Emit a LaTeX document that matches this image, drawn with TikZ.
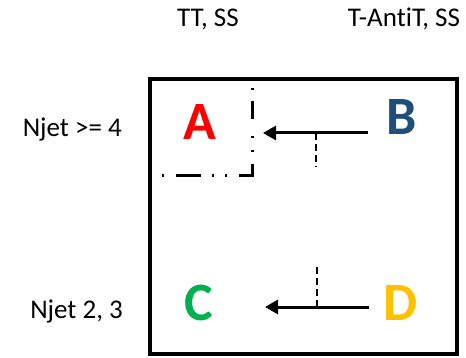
\documentclass[tikz,border=0pt]{standalone}
\usepackage{fontspec}
\setmainfont[Ligatures=NoCommon]{Carlito}
\usetikzlibrary{arrows.meta}
\definecolor{cA}{RGB}{255,0,0}
\definecolor{cB}{RGB}{31,78,121}
\definecolor{cC}{RGB}{0,176,80}
\definecolor{cD}{RGB}{255,192,0}
\tikzset{
  hdr/.style={font=\fontsize{27}{30}\selectfont, anchor=base, inner sep=0pt},
  rowlbl/.style={font=\fontsize{27}{30}\selectfont, anchor=base east, inner sep=0pt},
  letter/.style={font=\fontsize{54}{60}\selectfont\bfseries, anchor=base, inner sep=0pt},
  arr/.style={line width=3pt, -{Triangle[length=13pt,width=14pt]}},
  dvert/.style={line width=2pt, dash pattern=on 7pt off 4pt},
  dashdot/.style={line width=3pt, miter limit=10,
    dash pattern=on 2pt off 11pt on 18pt off 17pt on 2pt off 12pt on 2pt off 12pt
      on 25pt off 12pt on 2pt off 11pt on 2pt off 11pt on 25pt off 12pt on 2pt off 100pt},
  frame/.style={line width=4.5pt}
}
\begin{document}
\begin{tikzpicture}[x=1pt,y=-1pt]
\useasboundingbox (0,0) rectangle (466,358);
\draw[frame] (150,79) rectangle (457,354);
\node[hdr] (h1) at (208,27) {TT, SS};
\node[hdr] (h2) at (404,27) {T-AntiT, SS};
\node[rowlbl] (r1) at (122,137) {Njet >= 4};
\node[rowlbl] (r2) at (123,318) {Njet 2, 3};
\node[letter, text=cA] (A) at (200,140) {A};
\node[letter, text=cB] (B) at (402,135) {B};
\node[letter, text=cC] (C) at (199,320) {C};
\node[letter, text=cD] (D) at (401,320) {D};
% top arrow
\coordinate (bs) at (368,133);
\coordinate (bt) at (263,133);
\coordinate (bm) at (316,133);
\coordinate (bd) at (316,167);
\draw[arr] (bs) -- (bt);
\draw[dvert] (bm) -- (bd);
% bottom arrow
\coordinate (ds) at (369,307);
\coordinate (dt) at (265,307);
\coordinate (dm) at (317,307);
\coordinate (du) at (317,265);
\draw[arr] (ds) -- (dt);
\draw[dvert] (dm) -- (du);
% dash-dot corner
\coordinate (l1) at (252,88);
\coordinate (l2) at (252,176);
\coordinate (l3) at (162,176);
\draw[dashdot] (l1) -- (l2) -- (l3);
\end{tikzpicture}
\end{document}
